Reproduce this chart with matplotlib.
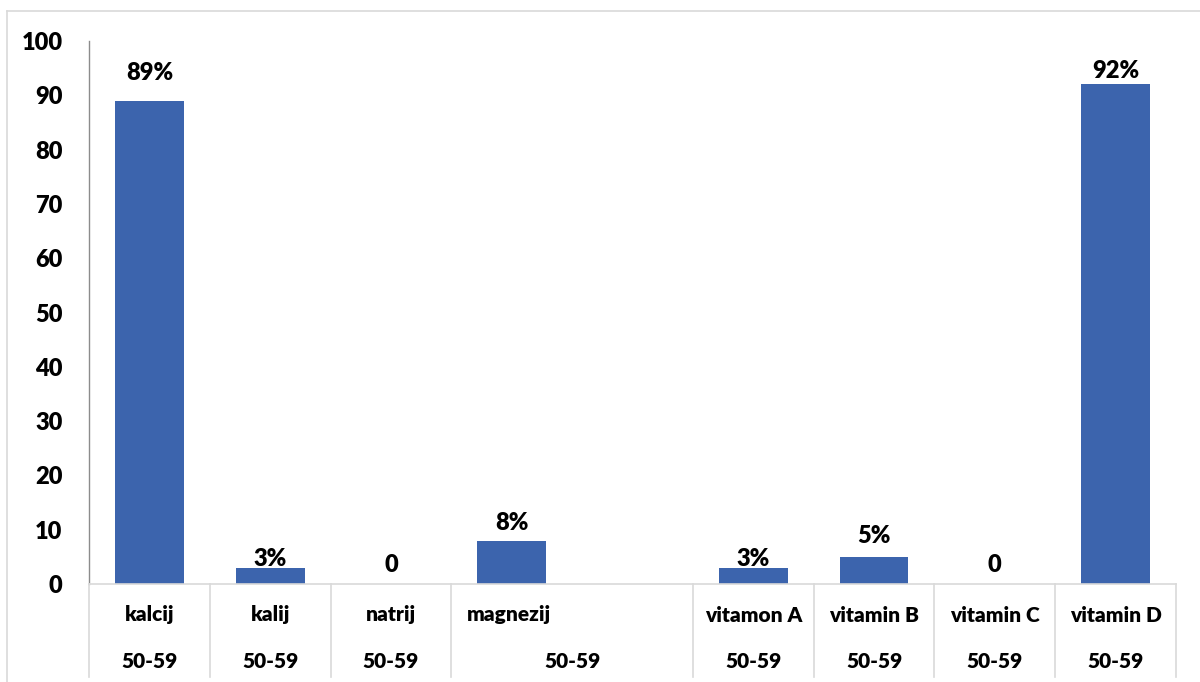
import numpy as np
import matplotlib
matplotlib.use('Agg')
import matplotlib.pyplot as plt
from matplotlib.transforms import blended_transform_factory
from matplotlib.lines import Line2D

categories = ['kalcij', 'kalij', 'natrij', 'magnezij', 'vitamon A', 'vitamin B', 'vitamin C', 'vitamin D']
age_group = ['50-59'] * 8
values = [89, 3, 0, 8, 3, 5, 0, 92]
bar_labels = ['89%', '3%', '0', '8%', '3%', '5%', '0', '92%']

# layout of the category table: slot index and how many slots each cell spans
slots = [0, 1, 2, 3, 5, 6, 7, 8]
spans = [1, 1, 1, 2, 1, 1, 1, 1]
label_gap = [12, -2, 6, 5, -2, 7, 6, 2]  # points between bar top and its label

plt.rcParams['font.family'] = ['Lato', 'DejaVu Sans']
WT = 'heavy'

W, H = 1200, 682
fig = plt.figure(figsize=(12, 6.82), dpi=100)
ax = fig.add_axes([89 / W, 1 - 584 / H, (1176 - 89) / W, (584 - 41) / H])

bar_color = '#3c64ad'
ax.bar(slots, values, width=0.57, color=bar_color, zorder=2)
ax.set_xlim(-0.5, 8.5)
ax.set_ylim(0, 100)
ax.set_yticks(np.arange(0, 101, 10))
ax.tick_params(axis='y', length=0, pad=19, labelsize=17)
ax.tick_params(axis='x', length=0, labelbottom=False)
for lbl in ax.get_yticklabels():
    lbl.set_fontweight(WT)
for s in ['top', 'right', 'bottom']:
    ax.spines[s].set_visible(False)
ax.spines['left'].set_color('#8c8c8c')
ax.spines['left'].set_linewidth(1)

for x, v, t, g in zip(slots, values, bar_labels, label_gap):
    ax.annotate(t, (x, v), xytext=(0, g), textcoords='offset points',
                ha='center', va='bottom', fontsize=17, fontweight=WT)

# category table under the axis
tr = blended_transform_factory(ax.transData, fig.transFigure)
y_top = 1 - 584 / H
y_bot = 1 - 677 / H
y_row1 = 1 - 615 / H
y_row2 = 1 - 662 / H
grid_c = '#d9d9d9'
fig.add_artist(Line2D([-0.5, 8.5], [y_top, y_top], transform=tr, color=grid_c, lw=1.2))
edges = [-0.5] + [s + n - 0.5 for s, n in zip(slots, spans)]
for e in edges:
    fig.add_artist(Line2D([e, e], [y_bot, y_top], transform=tr, color=grid_c, lw=1.2))

for s, n, name, age in zip(slots, spans, categories, age_group):
    center = s + (n - 1) / 2
    if n > 1:
        fig.text(s - 0.5 + 0.13, y_row1, name, transform=tr, ha='left', va='center',
                 fontsize=15, fontweight=WT)
    else:
        fig.text(center, y_row1, name, transform=tr, ha='center', va='center',
                 fontsize=15, fontweight=WT)
    fig.text(center, y_row2, age, transform=tr, ha='center', va='center',
             fontsize=15, fontweight=WT)

# outer chart border
fig.add_artist(Line2D([7 / W, 1], [1 - 11 / H, 1 - 11 / H], transform=fig.transFigure, color=grid_c, lw=1.2))
fig.add_artist(Line2D([7 / W, 7 / W], [0, 1 - 11 / H], transform=fig.transFigure, color=grid_c, lw=1.2))

fig.savefig('out.png', dpi=100)
